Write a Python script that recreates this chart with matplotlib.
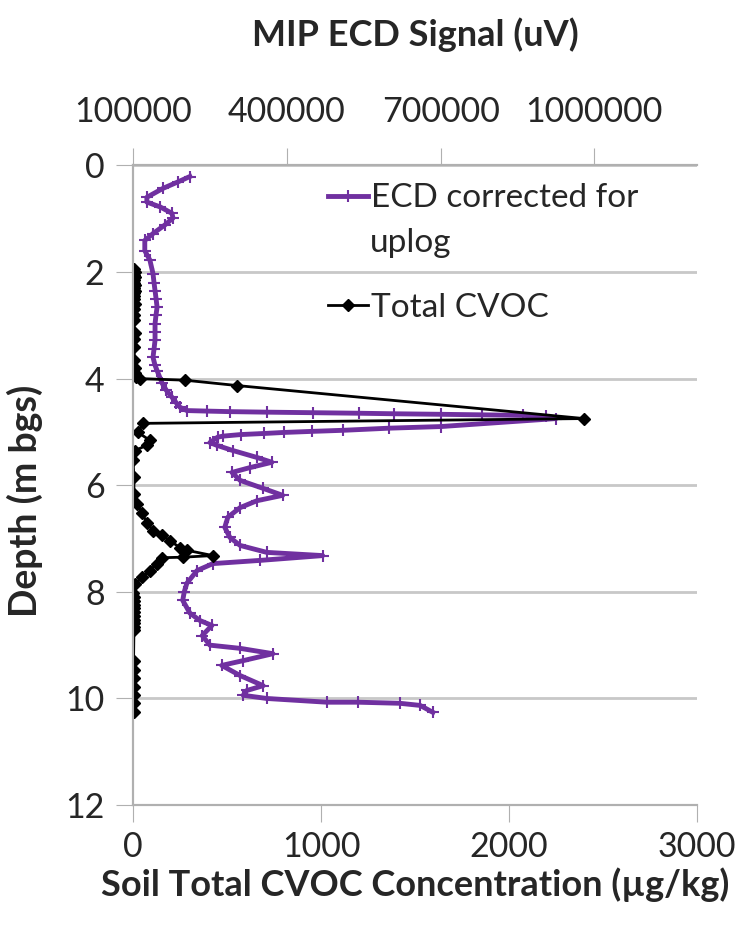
import matplotlib
matplotlib.use('Agg')
import matplotlib.pyplot as plt
from matplotlib.lines import Line2D

plt.rcParams['font.family'] = ['Lato', 'DejaVu Sans']

# MIP ECD signal corrected for uplog (top axis, uV) vs depth (m bgs)
ecd_depth = [0.21, 0.31, 0.43, 0.60, 0.69, 0.78, 0.90, 0.99, 1.12, 1.28, 1.41, 1.60, 1.78,
             2.03, 2.20, 2.35, 2.50, 2.66, 2.80, 2.97, 3.12, 3.28, 3.45, 3.60, 3.75, 3.85,
             4.09, 4.22, 4.35, 4.45, 4.54, 4.60, 4.61, 4.62, 4.63, 4.64, 4.65, 4.66, 4.67,
             4.68, 4.69, 4.71, 4.75, 4.90, 4.93, 4.97, 4.99, 5.01, 5.03, 5.05, 5.08, 5.10,
             5.20, 5.25, 5.35, 5.48, 5.57, 5.67, 5.76, 5.91, 6.06, 6.19, 6.29, 6.42, 6.60,
             6.79, 6.98, 7.13, 7.26, 7.32, 7.41, 7.47, 7.60, 7.84, 8.00, 8.16, 8.40, 8.54,
             8.63, 8.82, 9.00, 9.06, 9.16, 9.29, 9.38, 9.57, 9.76, 9.85, 9.94, 10.00, 10.07,
             10.07, 10.09, 10.13, 10.26]
ecd_signal = [211000, 188000, 159000, 127000, 127000, 153000, 176000, 178000, 162000, 139000,
              123000, 123000, 133000, 139000, 141000, 143000, 145000, 147000, 145000, 143000,
              143000, 143000, 141000, 139000, 143000, 147000, 157000, 165000, 176000, 184000,
              192000, 205000, 245000, 290000, 362000, 452000, 540000, 610000, 700000, 780000,
              860000, 905000, 925000, 700000, 600000, 510000, 450000, 395000, 355000, 310000,
              275000, 265000, 250000, 263000, 295000, 342000, 371000, 328000, 293000, 309000,
              354000, 392000, 342000, 309000, 285000, 279000, 289000, 309000, 361000, 470000,
              348000, 256000, 225000, 205000, 200000, 197000, 211000, 231000, 254000, 235000,
              250000, 309000, 373000, 315000, 273000, 309000, 354000, 322000, 315000, 361000,
              478000, 539000, 620000, 660000, 685000]

# Soil total CVOC concentration (bottom axis, ug/kg) vs depth (m bgs)
cvoc_depth = [1.95, 2.00, 2.05, 2.10, 2.15, 2.20, 2.25, 2.30, 2.35, 2.40, 2.45, 2.50, 2.60,
              2.70, 2.80, 2.90, 3.15, 3.25, 3.40, 3.65, 3.80, 3.90, 3.97, 4.00, 4.03, 4.13,
              4.75, 4.84, 5.01, 5.16, 5.25, 5.35, 5.53, 5.85, 6.16, 6.35, 6.53, 6.70, 6.85,
              6.94, 7.04, 7.17, 7.22, 7.32, 7.35, 7.36, 7.47, 7.60, 7.73, 7.85, 8.03, 8.10,
              8.17, 8.24, 8.31, 8.38, 8.45, 8.52, 8.59, 8.66, 8.72, 9.29, 9.47, 9.62, 9.79,
              9.94, 10.09, 10.26]
cvoc_conc = [5, 8, 6, 10, 7, 5, 9, 6, 8, 5, 7, 6, 8, 5, 7, 6, 8, 5, 7, 6, 8, 10, 15, 37,
             276, 552, 2400, 53, 27, 90, 74, 11, 0, 5, 5, 21, 48, 74, 106, 154, 196, 250, 286,
             425, 265, 154, 127, 90, 48, 11, 0, 5, 3, 6, 4, 5, 3, 6, 4, 5, 5, 3, 5, 3, 5, 3, 5, 3]

ecd_ticks = [100000, 400000, 700000, 1000000]
cvoc_ticks = [0, 1000, 2000, 3000]
depth_ticks = [0, 2, 4, 6, 8, 10, 12]

purple = '#7030A0'
grey = '#b0b0b0'
txt = '#262626'

fig = plt.figure(figsize=(7.43, 9.34), dpi=100)
ax = fig.add_axes([0.179, 0.138, 0.759, 0.685])
ax2 = ax.twiny()

# top axis: ECD signal
ax.plot(ecd_signal, ecd_depth, color=purple, linewidth=3.5, marker='+', markersize=8,
        mew=1.5)
ax.set_xlim(100000, 1200000)
ax.set_xticks(ecd_ticks)
ax.ticklabel_format(axis='x', style='plain', useOffset=False)
ax.xaxis.set_ticks_position('top')
ax.xaxis.set_label_position('top')
ax.set_xlabel('MIP ECD Signal (uV)', fontsize=26, fontweight='bold', labelpad=36,
              color=txt)
ax.set_ylim(12, 0)
ax.set_yticks(depth_ticks)
ax.set_ylabel('Depth (m bgs)', fontsize=27, fontweight='bold', color=txt)
ax.yaxis.set_label_coords(-0.16, 0.475)
ax.yaxis.grid(True, color='#c8c8c8', linewidth=2)
ax.set_axisbelow(True)
ax.tick_params(axis='x', direction='out', length=12, color=grey, labelsize=24.5,
               pad=15, labelcolor=txt)
ax.tick_params(axis='y', direction='out', length=12, color=grey, labelsize=24.5,
               pad=8.5, labelcolor=txt)

# bottom axis: soil CVOC
ax2.plot(cvoc_conc, cvoc_depth, color='black', linewidth=2, marker='D', markersize=6)
ax2.set_xlim(0, 3000)
ax2.set_xticks(cvoc_ticks)
ax2.xaxis.set_ticks_position('bottom')
ax2.xaxis.set_label_position('bottom')
ax2.set_xlabel('Soil Total CVOC Concentration (\u00b5g/kg)', fontsize=26,
               fontweight='bold', labelpad=3, color=txt)
ax2.tick_params(axis='x', direction='out', length=12, color=grey, labelsize=24.5,
                pad=7, labelcolor=txt)

for a in (ax, ax2):
    a.spines['right'].set_visible(False)
    for s in ('left', 'top', 'bottom'):
        a.spines[s].set_color(grey)
        a.spines[s].set_linewidth(1.5)

handles = [Line2D([], [], color=purple, linewidth=3.5, marker='+', markersize=8, mew=1.5),
           Line2D([], [], color='black', linewidth=2, marker='D', markersize=6)]
ax2.legend(handles, ['ECD corrected for', 'Total CVOC'], loc='upper left',
           bbox_to_anchor=(0.346, 0.972), frameon=False, fontsize=24,
           handlelength=1.2, handletextpad=0.08, labelspacing=2.39,
           borderaxespad=0, borderpad=0, labelcolor=txt)
ax2.text(0.420, 0.878, 'uplog', transform=ax2.transAxes, fontsize=24,
         color=txt, va='center', ha='left')

fig.savefig('out.png', dpi=100)
